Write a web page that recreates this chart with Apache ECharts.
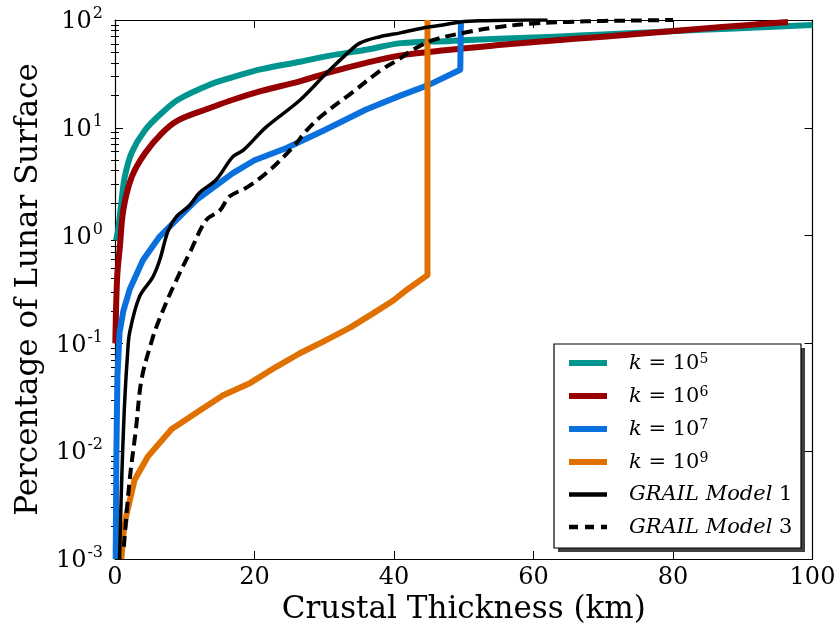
<!DOCTYPE html>
<html>
<head>
<meta charset="utf-8">
<script src="https://cdn.jsdelivr.net/npm/echarts@6/dist/echarts.min.js"></script>
<style>html,body{margin:0;padding:0;background:#fff}#c{width:840px;height:632px}</style>
</head>
<body>
<div id="c"></div>
<script>
// ---- data ----
const seriesNames = ['k=10^5', 'k=10^6', 'k=10^7', 'k=10^9', 'GRAIL Model 1', 'GRAIL Model 3'];

const k5X = [0.15, 0.5, 0.9, 1.4, 2.4, 4.3, 6.7, 9.1, 13.9, 16.9, 21, 26.5, 31, 36, 41, 48, 55, 63, 70, 77, 84, 92, 100];
const k5Y = [0.9, 1.2, 2.0, 3.5, 5.9, 9.5, 13.7, 18.3, 25.6, 29.5, 35, 41, 47, 53, 61, 64, 67, 70, 73.5, 77, 81, 85, 90];

const k6X = [0.05, 0.3, 0.7, 1.2, 2.4, 4.3, 6.7, 9.1, 13.9, 16.9, 21, 26.5, 31, 36, 41, 48, 55, 62, 70, 77, 84, 90, 96.5];
const k6Y = [0.1, 0.4, 0.79, 1.74, 3.5, 5.8, 8.9, 11.8, 15.5, 18.2, 22, 27, 33, 40, 47, 53, 58.5, 64, 70, 76, 83, 89, 96];

const k7X = [0.1, 0.2, 0.35, 0.65, 1.2, 2.1, 4.0, 6.4, 8.8, 11.7, 16.9, 20, 24.6, 30, 36, 41, 45, 49.5, 49.6];
const k7Y = [0.001, 0.01, 0.05, 0.126, 0.2, 0.316, 0.59, 0.98, 1.4, 2.15, 3.8, 5, 6.5, 9.5, 14.8, 20, 25, 34.5, 100];

const k9X = [0.9, 1.2, 1.6, 2.8, 4.7, 8.1, 12.2, 15.5, 19.4, 23, 26.5, 30, 33.7, 37, 39.9, 42, 44.8, 44.8];
const k9Y = [0.001, 0.0017, 0.0025, 0.0054, 0.0089, 0.016, 0.024, 0.033, 0.043, 0.06, 0.081, 0.105, 0.14, 0.19, 0.25, 0.32, 0.43, 100];

const g1X = [0.65, 0.9, 1.1, 1.4, 1.8, 2.1, 3.5, 5.4, 6.4, 7.6, 8.8, 10.7, 12.1, 14.5, 16.9, 18.4, 21.7, 26.5, 30.3, 33, 35.1, 38, 40.9, 44, 47, 49.5, 53, 57, 62];
const g1Y = [0.001, 0.004, 0.01, 0.03, 0.08, 0.126, 0.27, 0.41, 0.59, 1.1, 1.5, 1.9, 2.5, 3.3, 5.4, 6.2, 10.2, 18, 32, 47, 61, 70, 76, 84, 90, 96, 98.5, 99.5, 100];

const g3X = [1.27, 2.1, 3.0, 3.8, 5.3, 6.4, 8.3, 10.7, 13.1, 15, 16.4, 18.9, 21.9, 25.5, 27.5, 29.8, 33.9, 38.2, 40.9, 42.5, 45.6, 50.4, 55, 60, 65, 70, 75, 80];
const g3Y = [0.0013, 0.0054, 0.016, 0.046, 0.107, 0.17, 0.33, 0.69, 1.4, 1.7, 2.3, 2.8, 3.9, 6.6, 9.5, 13.2, 21, 34.5, 44, 52, 65, 77, 86, 93, 96, 98, 99, 100];

const xTicks = [0, 20, 40, 60, 80, 100];
const yTicks = [0.001, 0.01, 0.1, 1, 10, 100];
const yMinorTicks = [];
for (const d of [0.001, 0.01, 0.1, 1, 10]) for (let m = 2; m <= 9; m++) yMinorTicks.push(+(d * m).toPrecision(3));

// ---- styling ----
const colors = ['#00948f', '#960000', '#0a70dd', '#e07000', '#000000', '#000000'];
const widths = [6, 6, 6, 6, 3.5, 4];
const types = ['solid', 'solid', 'solid', 'solid', 'solid', [11, 6]];
const xs = [k5X, k6X, k7X, k9X, g1X, g3X];
const ys = [k5Y, k6Y, k7Y, k9Y, g1Y, g3Y];

const FONT = 'DejaVu Serif';
const expLabel = v => {
  const e = Math.round(Math.log10(v));
  return '{b|10}{s|' + e + '}';
};
const yRich = {
  b: { fontFamily: FONT, fontSize: 24, color: '#000', lineHeight: 28, verticalAlign: 'bottom' },
  s: { fontFamily: FONT, fontSize: 16, color: '#000', lineHeight: 28, verticalAlign: 'top', padding: [0, 0, 0, 1] }
};

const legendRich = {
  sp: { width: 17 },
  i: { fontFamily: FONT, fontStyle: 'italic', fontSize: 21, color: '#000', lineHeight: 22, verticalAlign: 'bottom' },
  n: { fontFamily: FONT, fontSize: 21, color: '#000', lineHeight: 22, verticalAlign: 'bottom' },
  s: { fontFamily: FONT, fontSize: 14, color: '#000', lineHeight: 22, verticalAlign: 'top' }
};
const legendFmt = name => {
  if (name.startsWith('k=')) {
    const e = name.split('^')[1];
    return '{sp|}{i|k}{n| = 10}{s|' + e + '}';
  }
  const parts = name.split(' ');
  return '{sp|}{i|' + parts[0] + ' ' + parts[1] + ' }{n|' + parts[2] + '}';
};

const series = seriesNames.map((name, i) => ({
  name,
  type: 'line',
  xAxisIndex: 0,
  yAxisIndex: 0,
  data: xs[i].map((x, j) => [x, ys[i][j]]),
  showSymbol: false,
  symbol: 'none',
  smooth: (i === 2 || i === 3) ? false : 0.35,
  lineStyle: { color: colors[i], width: widths[i], type: types[i], cap: 'butt', join: 'round' },
  itemStyle: { color: colors[i] },
  emphasis: { disabled: true },
  clip: true,
  z: 2
}));

const minorAxis = (pos) => ({
  type: 'value', position: pos, min: -3, max: 2, interval: 1,
  splitLine: { show: false },
  axisLine: { show: false },
  axisLabel: { show: false },
  axisTick: { show: true, inside: true, length: 4, customValues: yMinorTicks.map(v => Math.log10(v)), lineStyle: { color: '#000' } }
});

// legend frame (decoration)
const LG = { x: 554, y: 344, w: 247, h: 204 };

const option = {
  animation: false,
  backgroundColor: '#fff',
  grid: { left: 115, right: 27.5, top: 20, bottom: 73, containLabel: false },
  graphic: {
    elements: [
      { type: 'rect', id: 'lgShadow', z: 8, silent: true,
        shape: { x: LG.x + 4, y: LG.y + 4, width: LG.w, height: LG.h }, style: { fill: '#404040' } },
      { type: 'rect', id: 'lgFrame', z: 9, silent: true,
        shape: { x: LG.x, y: LG.y, width: LG.w, height: LG.h }, style: { fill: '#fff', stroke: '#000', lineWidth: 1.2 } }
    ]
  },
  xAxis: [
    {
      type: 'value', position: 'bottom', min: 0, max: 100, interval: 20,
      splitLine: { show: false },
      axisLine: { show: true, onZero: false, lineStyle: { color: '#000', width: 1.2 } },
      axisTick: { show: true, inside: true, length: 8, lineStyle: { color: '#000' } },
      axisLabel: { show: true, fontFamily: FONT, fontSize: 24, color: '#000', margin: 7 },
      name: 'Crustal Thickness (km)', nameLocation: 'middle', nameGap: 31,
      nameTextStyle: { fontFamily: FONT, fontSize: 31, color: '#000', verticalAlign: 'top' }
    },
    {
      type: 'value', position: 'top', min: 0, max: 100, interval: 20,
      splitLine: { show: false },
      axisLine: { show: true, onZero: false, lineStyle: { color: '#000', width: 1.2 } },
      axisTick: { show: true, inside: true, length: 8, lineStyle: { color: '#000' } },
      axisLabel: { show: false }
    }
  ],
  yAxis: [
    {
      type: 'log', logBase: 10, position: 'left', min: 0.001, max: 100,
      splitLine: { show: false },
      axisLine: { show: true, onZero: false, lineStyle: { color: '#000', width: 1.2 } },
      axisTick: { show: true, inside: true, length: 8, lineStyle: { color: '#000' } },
      axisLabel: { show: true, formatter: expLabel, rich: yRich, margin: 12 },
      name: 'Percentage of Lunar Surface', nameLocation: 'middle', nameGap: 71,
      nameTextStyle: { fontFamily: FONT, fontSize: 31, color: '#000' }
    },
    {
      type: 'log', logBase: 10, position: 'right', min: 0.001, max: 100,
      splitLine: { show: false },
      axisLine: { show: true, onZero: false, lineStyle: { color: '#000', width: 1.2 } },
      axisTick: { show: true, inside: true, length: 8, lineStyle: { color: '#000' } },
      axisLabel: { show: false }
    },
    minorAxis('left'),
    minorAxis('right')
  ],
  legend: {
    show: true,
    orient: 'vertical',
    left: 554,
    top: 344,
    z: 10,
    padding: [8, 6, 11, 12],
    itemGap: 11,
    itemWidth: 38,
    itemHeight: 14,
    backgroundColor: 'transparent',
    borderWidth: 0,
    selectedMode: false,
    itemStyle: { opacity: 0 },
    data: seriesNames.map((n, i) => ({
      name: n,
      itemStyle: { opacity: 0 },
      lineStyle: { width: i < 4 ? 6 : 4.5, color: colors[i], type: i === 5 ? [9, 7] : 'solid', opacity: 1 }
    })),
    formatter: legendFmt,
    textStyle: { rich: legendRich, fontFamily: FONT, fontSize: 21, color: '#000' }
  },
  series
};

const chart = echarts.init(document.getElementById('c'), null, { renderer: 'canvas' });
chart.setOption(option);
</script>
</body>
</html>
